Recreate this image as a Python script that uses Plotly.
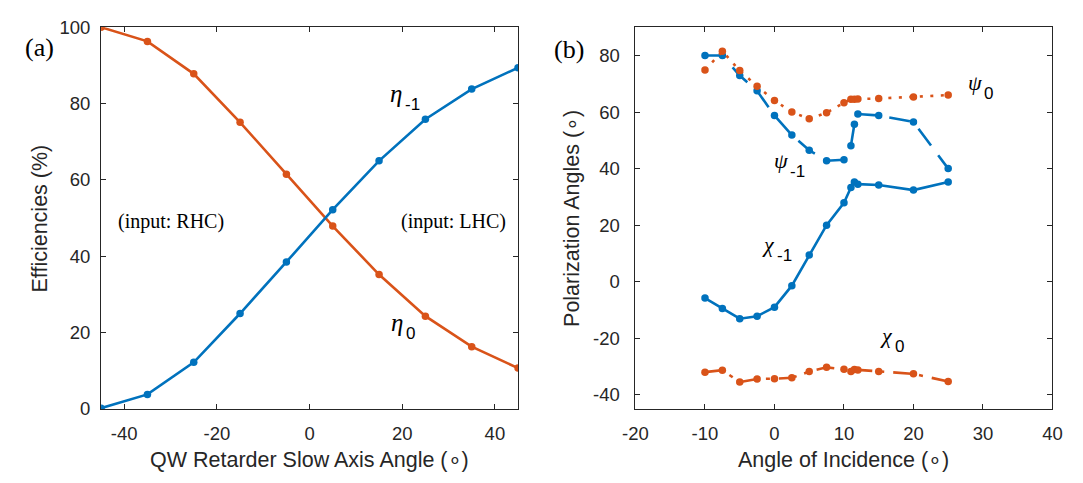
import plotly.graph_objects as go

# ---------------- data: panel (a) ----------------
qw_angle = [-45, -35, -25, -15, -5, 5, 15, 25, 35, 45]
eta_0 = [100.0, 96.3, 87.8, 75.1, 61.5, 47.9, 35.2, 24.3, 16.3, 10.7]
eta_m1 = [0.2, 3.8, 12.2, 25.0, 38.5, 52.2, 65.0, 75.9, 83.8, 89.4]

# ---------------- data: panel (b) ----------------
aoi = [-10, -7.5, -5, -2.5, 0, 2.5, 5, 7.5, 10, 11, 11.5, 12, 15, 20, 25]
psi_m1 = [80.0, 80.0, 72.9, 67.5, 58.8, 51.9, 46.5, 42.8, 43.1, 48.1, 55.7, 59.3, 58.8, 56.5, 40.0]
psi_0 = [74.9, 81.5, 74.7, 69.1, 64.1, 60.0, 57.6, 59.8, 63.3, 64.5, 64.5, 64.6, 64.8, 65.3, 66.0]
chi_m1 = [-5.8, -9.5, -13.1, -12.2, -9.0, -1.4, 9.4, 20.0, 27.9, 33.3, 35.3, 34.5, 34.2, 32.4, 35.3]
chi_0 = [-32.0, -31.3, -35.5, -34.4, -34.3, -34.0, -31.8, -30.3, -31.0, -31.8, -31.1, -31.2, -31.8, -32.6, -35.3]

# tick labels
xa_ticks = [-40, -20, 0, 20, 40]
xa_text = ["-40", "-20", "0", "20", "40"]
ya_ticks = [0, 20, 40, 60, 80, 100]
ya_text = ["0", "20", "40", "60", "80", "100"]
xb_ticks = [-20, -10, 0, 10, 20, 30, 40]
xb_text = ["-20", "-10", "0", "10", "20", "30", "40"]
yb_ticks = [-40, -20, 0, 20, 40, 60, 80]
yb_text = ["-40", "-20", "0", "20", "40", "60", "80"]

# curve labels: symbol, subscript, axes, symbol position (data units)
curve_labels = [
    ("η", "-1", "x", "y", 18.7, 82.7),
    ("η", "0", "x", "y", 18.8, 22.7),
    ("ψ", "0", "x2", "y2", 28.9, 70.6),
    ("ψ", "-1", "x2", "y2", 1.0, 42.7),
    ("χ", "-1", "x2", "y2", -0.9, 13.0),
    ("χ", "0", "x2", "y2", 16.1, -19.2),
]

W, H = 1083, 483

BLUE = "#0072BD"
ORANGE = "#D95319"
AX = "#262626"
SANS = "Liberation Sans, Arial, Helvetica, sans-serif"
SERIF = "Liberation Serif, Times New Roman, serif"

LW = 2.6
MS = 7.5


def px_x(p):
    return p / W


def px_y(p):
    return 1 - p / H


fig = go.Figure()

# panel (a)
fig.add_trace(go.Scatter(x=qw_angle, y=eta_0, mode="lines+markers",
                         line=dict(color=ORANGE, width=LW),
                         marker=dict(color=ORANGE, size=MS),
                         xaxis="x", yaxis="y", showlegend=False))
fig.add_trace(go.Scatter(x=qw_angle, y=eta_m1, mode="lines+markers",
                         line=dict(color=BLUE, width=LW),
                         marker=dict(color=BLUE, size=MS),
                         xaxis="x", yaxis="y", showlegend=False))

# panel (b)
fig.add_trace(go.Scatter(x=aoi, y=psi_m1, mode="lines+markers",
                         line=dict(color=BLUE, width=LW, dash="21px,12px"),
                         marker=dict(color=BLUE, size=MS),
                         xaxis="x2", yaxis="y2", showlegend=False))
fig.add_trace(go.Scatter(x=aoi, y=chi_m1, mode="lines+markers",
                         line=dict(color=BLUE, width=LW),
                         marker=dict(color=BLUE, size=MS),
                         xaxis="x2", yaxis="y2", showlegend=False))
fig.add_trace(go.Scatter(x=aoi, y=psi_0, mode="lines+markers",
                         line=dict(color=ORANGE, width=LW, dash="3px,7.5px"),
                         marker=dict(color=ORANGE, size=MS),
                         xaxis="x2", yaxis="y2", showlegend=False))
fig.add_trace(go.Scatter(x=aoi, y=chi_0, mode="lines+markers",
                         line=dict(color=ORANGE, width=LW, dash="18px,8px,4px,9px"),
                         marker=dict(color=ORANGE, size=MS),
                         xaxis="x2", yaxis="y2", showlegend=False))

x0a, x1a = px_x(90), px_x(516)
x0b, x1b = px_x(636), px_x(1062)
y0, y1 = px_y(416), px_y(17)

axis_common = dict(showline=True, linecolor=AX, linewidth=1, mirror="ticks",
                   ticks="inside", ticklen=5, tickwidth=1, tickcolor=AX,
                   showgrid=False, zeroline=False,
                   tickfont=dict(family=SANS, size=18.5, color=AX))

fig.update_layout(
    width=W, height=H,
    margin=dict(l=0, r=0, t=0, b=0),
    paper_bgcolor="white", plot_bgcolor="white",
    xaxis=dict(domain=[x0a, x1a], range=[-45, 45], tickvals=xa_ticks, ticktext=xa_text,
               anchor="y", ticklabelstandoff=8, **axis_common),
    yaxis=dict(domain=[y0, y1], range=[0, 100], tickvals=ya_ticks, ticktext=ya_text,
               anchor="x", ticklabelstandoff=6, **axis_common),
    xaxis2=dict(domain=[x0b, x1b], range=[-20, 40], tickvals=xb_ticks, ticktext=xb_text,
                anchor="y2", ticklabelstandoff=8, **axis_common),
    yaxis2=dict(domain=[y0, y1], range=[-45, 90], tickvals=yb_ticks, ticktext=yb_text,
                anchor="x2", ticklabelstandoff=11, **axis_common),
)

C = dict(xanchor="center", yanchor="middle", showarrow=False)
TF = dict(family=SANS, size=21.5, color=AX)
ann = []
# axis titles
ann.append(dict(text="QW Retarder Slow Axis Angle (∘)", xref="paper", yref="paper",
                x=(x0a + x1a) / 2, y=px_y(469), font=TF, **C))
ann.append(dict(text="Angle of Incidence (∘)", xref="paper", yref="paper",
                x=(x0b + x1b) / 2, y=px_y(469), font=TF, **C))
ann.append(dict(text="Efficiencies (%)", xref="paper", yref="paper",
                x=px_x(28), y=(y0 + y1) / 2, textangle=-90, font=TF, **C))
ann.append(dict(text="Polarization Angles (∘)", xref="paper", yref="paper",
                x=px_x(571), y=(y0 + y1) / 2, textangle=-90, font=TF, **C))
# panel labels
ann.append(dict(text="(a)", xref="paper", yref="paper", x=px_x(27), y=px_y(38),
                font=dict(family=SERIF, size=26, color="black"), **C))
ann.append(dict(text="(b)", xref="paper", yref="paper", x=px_x(568), y=px_y(40),
                font=dict(family=SERIF, size=26, color="black"), **C))
# in-plot text panel (a)
ann.append(dict(text="(input: RHC)", xref="x", yref="y", x=-30.0, y=49.2,
                font=dict(family=SERIF, size=20, color="black"), **C))
ann.append(dict(text="(input: LHC)", xref="x", yref="y", x=31.0, y=49.2,
                font=dict(family=SERIF, size=20, color="black"), **C))

# curve labels: italic serif symbol + sans subscript
for sym, sub, xr, yr, xv, yv in curve_labels:
    big = 25 if sym == "η" else 22
    ann.append(dict(text=sym, xref=xr, yref=yr, x=xv, y=yv,
                    font=dict(family=SERIF, size=big, color="black", style="italic"), **C))
    ann.append(dict(text=sub, xref=xr, yref=yr, x=xv, y=yv,
                    xanchor="left", yanchor="middle", showarrow=False,
                    xshift=7, yshift=-11,
                    font=dict(family=SANS, size=17, color="black")))

fig.update_layout(annotations=ann)

fig.write_html("out.html")
